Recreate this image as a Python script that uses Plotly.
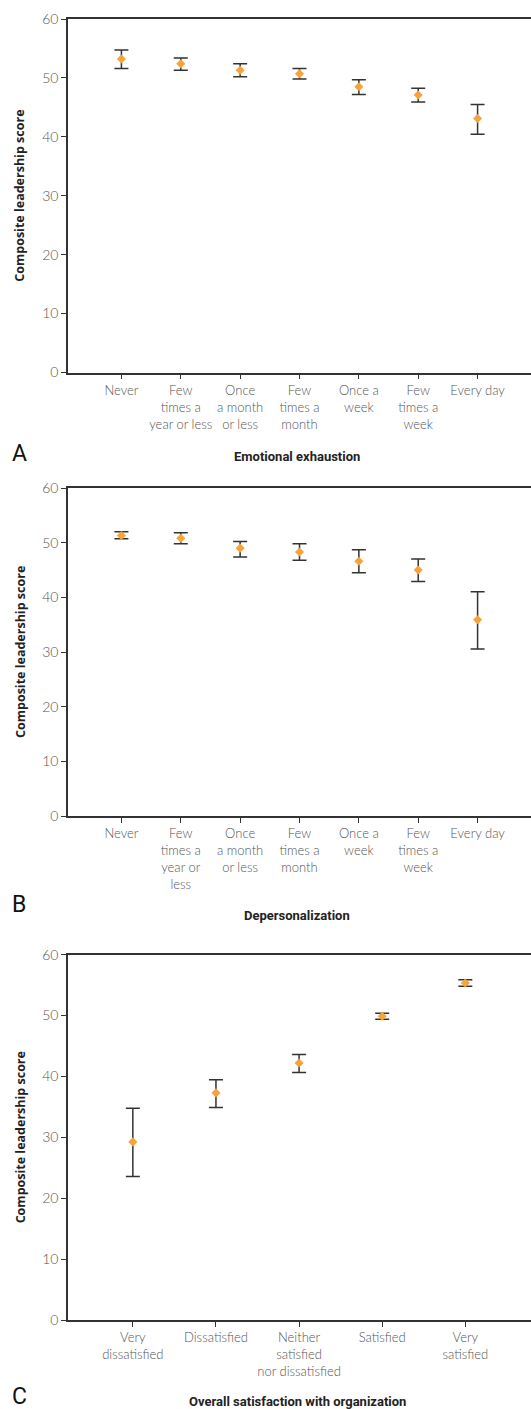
import plotly.graph_objects as go

# ---- data ----
freq_labels_a = ["Never", "Few<br>times a<br>year or less", "Once<br>a month<br>or less",
                 "Few<br>times a<br>month", "Once a<br>week", "Few<br>times a<br>week", "Every day"]
freq_labels_b = ["Never", "Few<br>times a<br>year or<br>less", "Once<br>a month<br>or less",
                 "Few<br>times a<br>month", "Once a<br>week", "Few<br>times a<br>week", "Every day"]
sat_labels = ["Very<br>dissatisfied", "Dissatisfied", "Neither<br>satisfied<br>nor dissatisfied",
              "Satisfied", "Very<br>satisfied"]

ee_mean = [53.2, 52.4, 51.3, 50.7, 48.5, 47.1, 43.1]
ee_upper = [54.75, 53.4, 52.4, 51.6, 49.7, 48.25, 45.5]
ee_lower = [51.6, 51.3, 50.2, 49.8, 47.2, 45.9, 40.45]

dp_mean = [51.3, 50.8, 49.0, 48.3, 46.6, 45.0, 35.9]
dp_upper = [52.0, 51.8, 50.2, 49.8, 48.7, 47.0, 41.0]
dp_lower = [50.7, 49.8, 47.4, 46.8, 44.5, 42.9, 30.55]

sat_mean = [29.25, 37.3, 42.2, 49.9, 55.35]
sat_upper = [34.8, 39.45, 43.6, 50.4, 55.9]
sat_lower = [23.55, 34.9, 40.65, 49.4, 54.8]

x_titles = ["Emotional exhaustion", "Depersonalization", "Overall satisfaction with organization"]
panel_letters = ["A", "B", "C"]
y_title = "Composite leadership score"
y_ticks = [0, 10, 20, 30, 40, 50, 60]

W, H = 531, 1409
ORANGE = "#F8A23A"
LINE = "#333333"
TICKFONT = dict(family="Lato", size=13, color="#555555", weight=300)

panels = [
    (freq_labels_a, ee_mean, ee_upper, ee_lower, (19, 372.5), [-0.9, 6.9], 456.7, 453),
    (freq_labels_b, dp_mean, dp_upper, dp_lower, (488, 816), [-0.9, 6.9], 915, 905),
    (sat_labels, sat_mean, sat_upper, sat_lower, (954.7, 1320), [-0.78, 4.79], 1401.7, 1396.7),
]

fig = go.Figure()
annotations = []
for i, (cats, m, up, lo, (ytop, ybot), xr, xt_y, letter_y) in enumerate(panels):
    n = i + 1
    xa = "x" if n == 1 else f"x{n}"
    ya = "y" if n == 1 else f"y{n}"
    fig.add_trace(go.Scatter(
        x=cats, y=m, mode="markers", xaxis=xa, yaxis=ya,
        marker=dict(symbol="diamond", size=7, color=ORANGE),
        error_y=dict(type="data", symmetric=False,
                     array=[u - v for u, v in zip(up, m)],
                     arrayminus=[v - l for v, l in zip(m, lo)],
                     color=LINE, thickness=1.5, width=7),
        showlegend=False, cliponaxis=False,
    ))
    dom_y = [1 - ybot / H, 1 - ytop / H]
    fig.update_layout(**{
        ("xaxis" if n == 1 else f"xaxis{n}"): dict(
            domain=[68 / W, 1], anchor=ya, type="category", categoryarray=cats,
            range=xr, showline=True, linecolor=LINE, linewidth=1.5, mirror=True,
            ticks="outside", ticklen=5, tickcolor=LINE, tickwidth=1.3, automargin=False,
            tickfont=TICKFONT, showgrid=False, zeroline=False, fixedrange=True),
        ("yaxis" if n == 1 else f"yaxis{n}"): dict(
            domain=dom_y, anchor=xa, range=[0, 60], tickvals=y_ticks,
            showline=True, linecolor=LINE, linewidth=1.5, automargin=False,
            ticks="outside", ticklen=5, tickcolor=LINE, tickwidth=1.3,
            tickfont=dict(family="Lato", size=14, color="#555555", weight=300),
            showgrid=False, zeroline=False, fixedrange=True),
    })
    annotations.append(dict(
        text=f"<b>{x_titles[i]}</b>", xref="paper", yref="paper",
        x=297 / W, y=1 - xt_y / H, showarrow=False, xanchor="center", yanchor="middle",
        font=dict(family="Roboto", size=13, color="#222222")))
    annotations.append(dict(
        text=panel_letters[i], xref="paper", yref="paper",
        x=10 / W, y=1 - letter_y / H, showarrow=False, xanchor="left", yanchor="middle",
        font=dict(family="Roboto", size=23, color="#111111")))
    annotations.append(dict(
        text=f"<b>{y_title}</b>", xref="paper", yref="paper",
        x=20 / W, y=1 - (ytop + ybot) / 2 / H, showarrow=False, textangle=-90,
        xanchor="center", yanchor="middle",
        font=dict(family="Open Sans", size=12.5, color="#222222")))

fig.update_layout(width=W, height=H, margin=dict(l=0, r=0, t=0, b=0, pad=0),
                  paper_bgcolor="white", plot_bgcolor="white",
                  annotations=annotations)
fig.write_html("out.html", config={"displayModeBar": False},
               post_script="document.body.style.margin='0';document.body.style.overflow='hidden';")
